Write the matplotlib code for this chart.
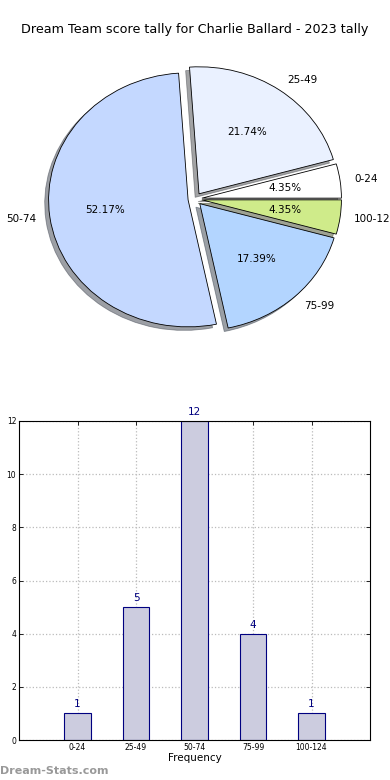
import matplotlib
matplotlib.use("Agg")
import matplotlib.pyplot as plt
import numpy as np

categories = ["0-24", "25-49", "50-74", "75-99", "100-124"]
counts = [1, 5, 12, 4, 1]
pie_colors = ["#ffffff", "#eaf1ff", "#c4d8ff", "#b3d5ff", "#cfeb8a"]
title = "Dream Team score tally for Charlie Ballard - 2023 tally"

fig = plt.figure(figsize=(3.9, 7.8), dpi=100)

# pie chart, top half (slightly squashed like the original)
ax1 = fig.add_axes([0, 1 - 346 / 780, 1, 296 / 780])
wedges, texts, autotexts = ax1.pie(
    counts, labels=categories, colors=pie_colors, autopct="%1.2f%%",
    explode=[0.05] * len(counts), shadow=True, startangle=0,
    wedgeprops=dict(edgecolor="black", linewidth=0.6),
    textprops=dict(fontsize=7.5))
ax1.set_aspect("auto")
ax1.set_xlim(-195 / 139.5, 195 / 139.5)
ax1.set_ylim(-(346 - 199) / 127, (199 - 50) / 127)
ax1.axis("off")
fig.text(0.5, 1 - 30 / 780, title, ha="center", va="center", fontsize=9.2)

# bar chart, bottom half
ax2 = fig.add_axes([19 / 390, 40 / 780, 351 / 390, 319 / 780])
x = np.arange(len(categories))
bars = ax2.bar(x, counts, width=0.45, color="#ccccdf", edgecolor="#000080",
               linewidth=0.8, zorder=2)
for xi, c in zip(x, counts):
    ax2.text(xi, c + 0.15, str(c), ha="center", va="bottom", color="#000080",
             fontsize=7.5)
ax2.set_xlim(-1, 5)
ax2.set_ylim(0, 12)
ax2.set_xticks(x)
ax2.set_xticklabels(categories, fontsize=5.5)
ax2.set_yticks(range(0, 13, 2))
ax2.tick_params(axis="y", labelsize=5.5)
ax2.tick_params(direction="in", top=True, right=True, length=3, width=0.6, pad=2)
ax2.grid(True, linestyle=":", color="#bbbbbb", linewidth=0.9, zorder=0)
ax2.set_axisbelow(True)
ax2.set_xlabel("Frequency", fontsize=7.5, labelpad=1)
ax2.set_ylabel("Score Interval", fontsize=7.5)
ax2.yaxis.set_label_coords(-0.06, 0.5)
for s in ax2.spines.values():
    s.set_linewidth(0.8)

fig.text(0.0, 1 - 771 / 780, "Dream-Stats.com", ha="left", va="center",
         fontsize=8, color="#999999", fontweight="bold")

fig.savefig("out.png", dpi=100)
